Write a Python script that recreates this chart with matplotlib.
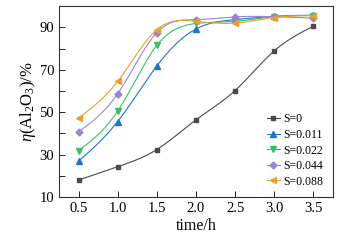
import numpy as np
import matplotlib
matplotlib.use("Agg")
import matplotlib.pyplot as plt

plt.rcParams['font.family'] = ['Liberation Serif', 'DejaVu Serif']
plt.rcParams['mathtext.fontset'] = 'custom'
plt.rcParams['mathtext.rm'] = 'Liberation Serif'
plt.rcParams['mathtext.it'] = 'Liberation Serif:italic'

time_h = [0.5, 1.0, 1.5, 2.0, 2.5, 3.0, 3.5]
s_0 = [18.0, 24.3, 32.4, 46.4, 60.2, 78.9, 90.5]
s_0011 = [26.9, 45.6, 71.8, 89.2, 93.6, 95.2, 95.7]
s_0022 = [31.9, 50.5, 81.5, 91.8, 92.8, 95.0, 95.5]
s_0044 = [40.7, 58.7, 87.5, 93.6, 94.9, 95.0, 94.3]
s_0088 = [47.2, 64.5, 88.9, 92.8, 92.0, 94.6, 95.5]
labels = ['S=0', 'S=0.011', 'S=0.022', 'S=0.044', 'S=0.088']
xticks = [0.5, 1.0, 1.5, 2.0, 2.5, 3.0, 3.5]
yticks = [10, 30, 50, 70, 90]

series = [s_0, s_0011, s_0022, s_0044, s_0088]
colors = ['#4a4a4a', '#1f74d0', '#3cbf6a', '#9a84d6', '#e8a030']
markers = ['s', '^', 'v', 'D', '<']
msizes = [3.5, 4, 4, 3.5, 4]


def natural_spline(x, y, xs):
    x = np.asarray(x, float); y = np.asarray(y, float)
    n = len(x)
    h = np.diff(x)
    A = np.zeros((n, n)); b = np.zeros(n)
    A[0, 0] = 1; A[-1, -1] = 1
    for i in range(1, n - 1):
        A[i, i - 1] = h[i - 1]
        A[i, i] = 2 * (h[i - 1] + h[i])
        A[i, i + 1] = h[i]
        b[i] = 3 * ((y[i + 1] - y[i]) / h[i] - (y[i] - y[i - 1]) / h[i - 1])
    c = np.linalg.solve(A, b)
    out = np.empty_like(xs)
    for k, xv in enumerate(xs):
        i = min(max(np.searchsorted(x, xv) - 1, 0), n - 2)
        dx = xv - x[i]
        bi = (y[i + 1] - y[i]) / h[i] - h[i] * (2 * c[i] + c[i + 1]) / 3
        di = (c[i + 1] - c[i]) / (3 * h[i])
        out[k] = y[i] + bi * dx + c[i] * dx ** 2 + di * dx ** 3
    return out


fig = plt.figure(figsize=(3.45, 2.43), dpi=100)
ax = fig.add_axes([0.171, 0.189, 0.794, 0.786])
xs = np.linspace(time_h[0], time_h[-1], 300)
for ys, lab, col, mk, ms in zip(series, labels, colors, markers, msizes):
    ax.plot(xs, natural_spline(time_h, ys, xs), color=col, lw=0.8)
    ax.plot(time_h, ys, marker=mk, color=col, ms=ms, ls='none')
    ax.plot([], [], color=col, lw=0.8, marker=mk, ms=ms, label=lab)

ax.set_xlim(0.25, 3.75)
ax.set_ylim(10, 100)
ax.set_xticks(xticks)
ax.set_xticklabels([f'{v:.1f}' for v in xticks])
ax.set_yticks(yticks)
ax.set_yticks([20, 40, 60, 80], minor=True)
ax.tick_params(axis='both', which='both', direction='in', labelsize=10.5, length=4, width=0.6)
for sp in ax.spines.values():
    sp.set_linewidth(0.8)
    sp.set_color('#333333')
ax.set_xlabel('time/h', fontsize=11.5, labelpad=2)
ax.set_ylabel(r'$\eta$(Al$_2$O$_3$)/%', fontsize=12, labelpad=1)
ax.legend(loc='lower right', frameon=False, fontsize=8.5, handlelength=1.1,
          handletextpad=0.3, labelspacing=0.3, borderaxespad=0.4)
fig.savefig('out.png', dpi=100)
